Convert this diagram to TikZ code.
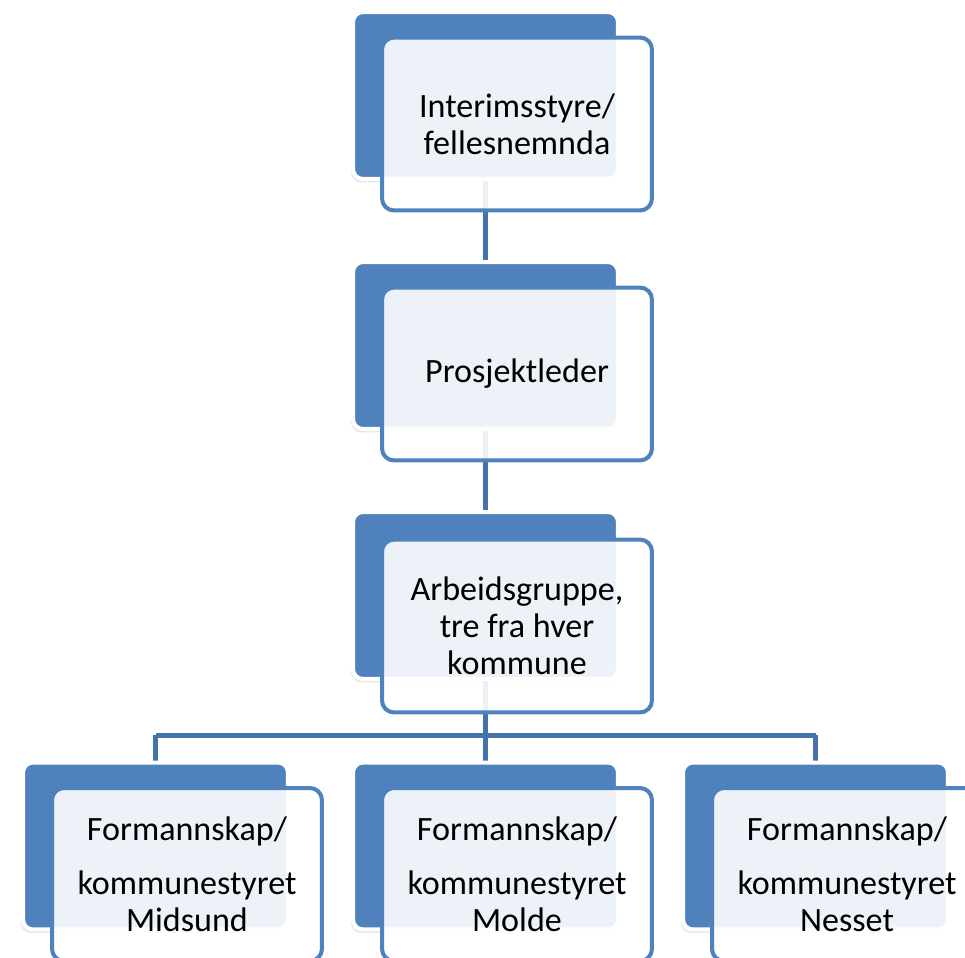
\documentclass[tikz,border=0pt]{standalone}
\usepackage{fontspec}
\setmainfont{Carlito}
\usetikzlibrary{shadows,backgrounds}
\definecolor{unitblue}{RGB}{79,129,189}
\definecolor{linkblue}{RGB}{70,114,172}
\begin{document}
\begin{tikzpicture}[
		x=0.02cm, y=-0.02cm,
		back/.style={rectangle, rounded corners=0.2cm, fill=unitblue, draw=white, line width=0.08cm,
			minimum width=5.3cm, minimum height=3.34cm, inner sep=0pt,
			drop shadow={shadow xshift=-0.04cm, shadow yshift=-0.07cm, opacity=0.15, fill=black!60}},
		front/.style={rectangle, rounded corners=0.24cm, draw=unitblue, line width=0.08cm,
			fill=white, fill opacity=0.9, text opacity=1,
			minimum width=5.4cm, minimum height=3.46cm, inner sep=0pt,
			align=center, font=\fontsize{19.4}{21.2}\selectfont},
		link/.style={draw=linkblue, line width=0.1cm},
	]
	\useasboundingbox (0,0) rectangle (965,958);

	% joints of the bus
	\coordinate (j0) at (485.5,735);
	\coordinate (jl) at (155.5,735);
	\coordinate (jr) at (815.5,735);

	% back boxes
	\node[back] (u1) at (485.5,95.5)  {};
	\node[back] (u2) at (485.5,345.5) {};
	\node[back] (u3) at (485.5,595.5) {};
	\node[back] (u4) at (155.5,846)   {};
	\node[back] (u5) at (485.5,846)   {};
	\node[back] (u6) at (815.5,846)   {};

	% links, under the boxes
	\begin{pgfonlayer}{background}
		\path[link] (u1) -- (u2);
		\path[link] (u2) -- (u3);
		\path[link] (u3) -- (j0);
		\path[link] (jl) -- (jr);
		\path[link] (jl) -- (u4);
		\path[link] (j0) -- (u5);
		\path[link] (jr) -- (u6);
	\end{pgfonlayer}

	% front boxes with the labels
	\node[front] (l1) at (517,124)   {Interimsstyre/\\fellesnemnda};
	\node[front] (l2) at (517,374)   {Prosjektleder};
	\node[front] (l3) at (517,626)   {Arbeidsgruppe,\\ tre fra hver\\kommune};
	\node[front] (l4) at (187,874.5) {Formannskap/\\[0.34cm]kommunestyret\\Midsund};
	\node[front] (l5) at (517,874.5) {Formannskap/\\[0.34cm]kommunestyret\\Molde};
	\node[front] (l6) at (847,874.5) {Formannskap/\\[0.34cm]kommunestyret\\Nesset};
\end{tikzpicture}
\end{document}
